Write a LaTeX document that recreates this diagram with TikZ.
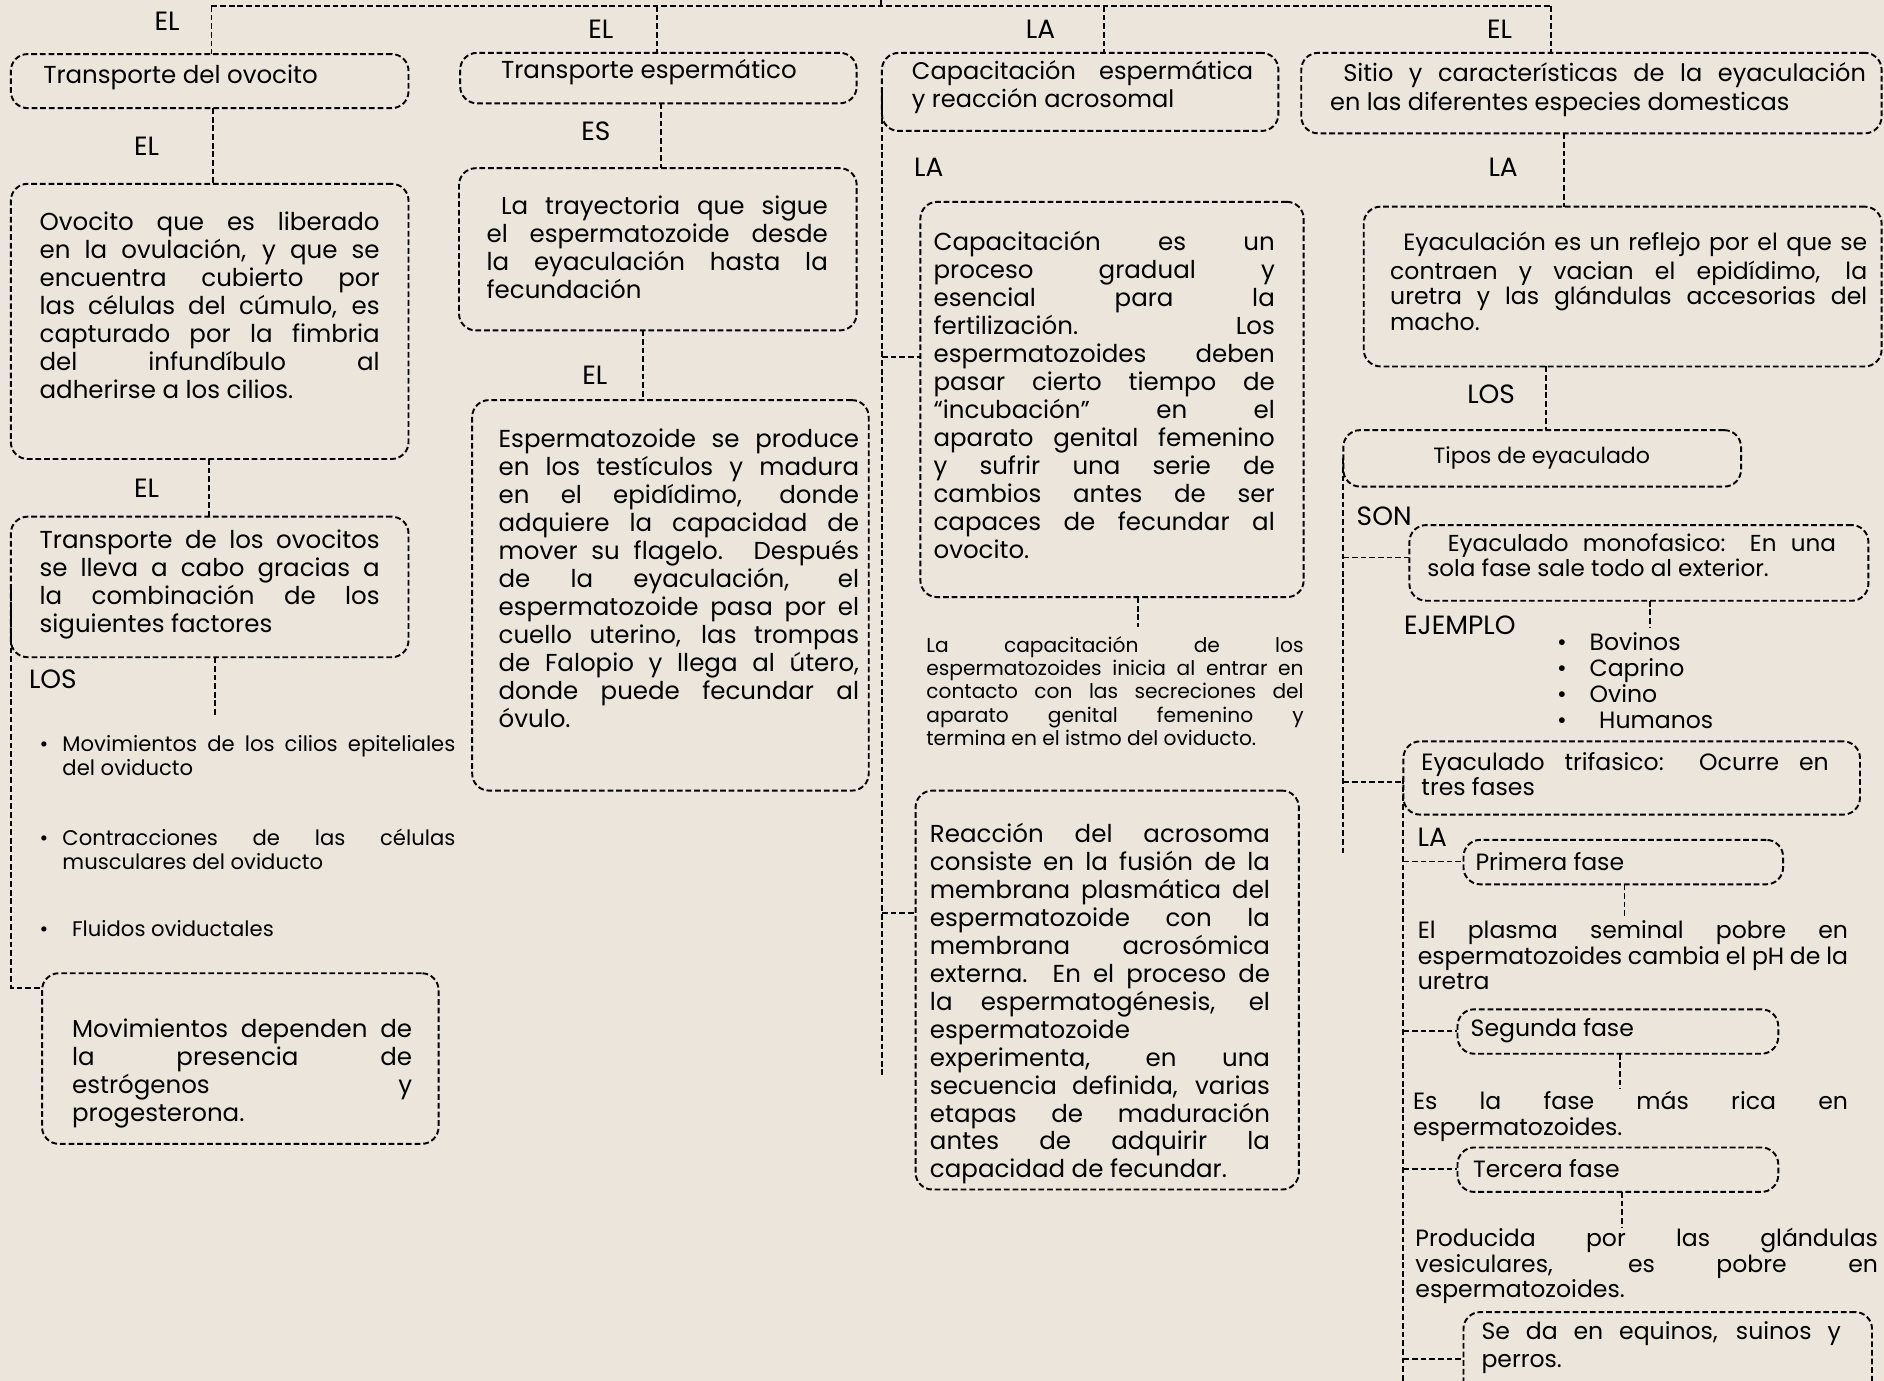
\documentclass[tikz,border=0pt]{standalone}
\usepackage{fontspec}
\setmainfont{Poppins}
\setlength\parindent{0pt}
\definecolor{paper}{RGB}{235,229,219}
\newcommand\J[1]{\makebox[\hsize][s]{#1}}
\newcommand\PB[2]{\parbox[t]{#1}{\strut #2}}
\newcommand\fb{\fontsize{10.2}{11.65}\selectfont}
\newcommand\fh{\fontsize{10}{12}\selectfont}
\newcommand\fc{\fontsize{9.8}{10.7}\selectfont}
\newcommand\fs{\fontsize{8.4}{9.6}\selectfont}
\newcommand\fli{\fontsize{8.8}{10}\selectfont}
\newcommand\fl{\fontsize{11}{12}\selectfont}
\newcommand\bx[5]{\node[box, minimum width={(#4-#2)*0.5pt}, minimum height={(#5-#3)*0.5pt}] (#1) at ({(#2+#4)/2},{(#3+#5)/2}) {};}
\begin{document}
\begin{tikzpicture}[x=0.5pt,y=-0.5pt,
  conn/.style={draw=black, line width=0.8pt, dash pattern=on 2.4pt off 1.2pt},
  box/.style={conn, rounded corners=7pt, inner sep=0pt, outer sep=0pt},
  tx/.style={anchor=north west, inner sep=0pt, outer sep=0pt, align=left, font=\fb},
  hd/.style={anchor=west, inner sep=0pt, outer sep=0pt, font=\fb},
  lb/.style={anchor=center, inner sep=0pt, outer sep=0pt, font=\fl}]
\useasboundingbox (0,0) rectangle (1568,1149);
\clip (0,0) rectangle (1568,1149);
\fill[paper] (0,0) rectangle (1568,1149);

% ---------- boxes
\bx{b1}{9}{45}{340}{90}
\bx{b2}{383}{44}{713}{86}
\bx{b3}{734}{44}{1064}{109}
\bx{b4}{1083}{44}{1566}{111}
\bx{ovo}{9}{153}{340}{382}
\bx{tr1}{9}{430}{340}{547}
\bx{mov}{35}{810}{365}{952}
\bx{tray}{382}{140}{713}{275}
\bx{esp}{393}{333}{723}{658}
\bx{cap}{766}{168}{1085}{497}
\bx{reac}{762}{658}{1081}{990}
\bx{eya}{1135}{172}{1566}{305}
\bx{tipos}{1118}{358}{1449}{405}
\bx{mono}{1173}{437}{1555}{500}
\bx{tri}{1168}{617}{1548}{678}
\bx{prim}{1218}{699}{1484}{736}
\bx{seg}{1213}{840}{1480}{877}
\bx{ter}{1213}{955}{1480}{992}
\bx{seda}{1218}{1092}{1558}{1175}

% ---------- header texts
\node[hd] (h1) at (36,64) {Transporte del ovocito};
\node[hd] (h2) at (417,60) {Transporte espermático};
\node[tx, font=\fh] (h3) at (759,49) {\PB{142pt}{\J{Capacitación espermática}\\y reacción acrosomal}};
\node[tx, font=\fh] (h4) at (1107,51) {\PB{223pt}{\J{\hspace*{5.5pt}Sitio y características de la eyaculación}\\en las diferentes especies domesticas}};

% ---------- column 1
\node[tx] (ovoT) at (33,175.5) {\PB{141.5pt}{\J{Ovocito que es liberado}\\\J{en la ovulación, y que se}\\\J{encuentra cubierto por}\\\J{las células del cúmulo, es}\\\J{capturado por la fimbria}\\\J{del infundíbulo al}\\adherirse a los cilios.}};
\node[tx] (tr1T) at (33,440.5) {\PB{141.5pt}{\J{Transporte de los ovocitos}\\\J{se lleva a cabo gracias a}\\\J{la combinación de los}\\siguientes factores}};
\node[tx, font=\fli] (li1) at (33,611.5) {\makebox[9.5pt][l]{\strut•}\PB{163.5pt}{\J{Movimientos de los cilios epiteliales}\\del oviducto}};
\node[tx, font=\fli] (li2) at (33,689.5) {\makebox[9.5pt][l]{\strut•}\PB{163.5pt}{\J{Contracciones de las células}\\musculares del oviducto}};
\node[tx, font=\fli] (li3) at (33,765.5) {\makebox[13.5pt][l]{\strut•}Fluidos oviductales};
\node[tx] (movT) at (60,847.5) {\PB{141.5pt}{\J{Movimientos dependen de}\\\J{la presencia de}\\\J{estrógenos y}\\progesterona.}};

% ---------- column 2
\node[tx] (trayT) at (405,162.5) {\PB{142pt}{\J{\hspace*{6pt}La trayectoria que sigue}\\\J{el espermatozoide desde}\\\J{la eyaculación hasta la}\\fecundación}};
\node[tx] (espT) at (415,356.5) {\PB{150pt}{\J{Espermatozoide se produce}\\\J{en los testículos y madura}\\\J{en el epidídimo, donde}\\\J{adquiere la capacidad de}\\\J{mover su flagelo. Después}\\\J{de la eyaculación, el}\\\J{espermatozoide pasa por el}\\\J{cuello uterino, las trompas}\\\J{de Falopio y llega al útero,}\\\J{donde puede fecundar al}\\óvulo.}};

% ---------- column 3
\node[tx] (capT) at (777,192.5) {\PB{142pt}{\J{Capacitación es un}\\\J{proceso gradual y}\\\J{esencial para la}\\\J{fertilización. Los}\\\J{espermatozoides deben}\\\J{pasar cierto tiempo de}\\\J{“incubación” en el}\\\J{aparato genital femenino}\\\J{y sufrir una serie de}\\\J{cambios antes de ser}\\\J{capaces de fecundar al}\\ovocito.}};
\node[tx, font=\fs] (capS) at (771,529.9) {\PB{157pt}{\J{La capacitación de los}\\\J{espermatozoides inicia al entrar en}\\\J{contacto con las secreciones del}\\\J{aparato genital femenino y}\\termina en el istmo del oviducto.}};
\node[tx] (reacT) at (774,684.5) {\PB{141.5pt}{\J{Reacción del acrosoma}\\\J{consiste en la fusión de la}\\\J{membrana plasmática del}\\\J{espermatozoide con la}\\\J{membrana acrosómica}\\\J{externa. En el proceso de}\\\J{la espermatogénesis, el}\\espermatozoide\\\J{experimenta, en una}\\\J{secuencia definida, varias}\\\J{etapas de maduración}\\\J{antes de adquirir la}\\capacidad de fecundar.}};

% ---------- column 4
\node[tx, font=\fc] (eyaT) at (1157,193) {\PB{198.5pt}{\J{\hspace*{5.5pt}Eyaculación es un reflejo por el que se}\\\J{contraen y vacian el epidídimo, la}\\\J{uretra y las glándulas accesorias del}\\macho.}};
\node[hd, font=\fontsize{9.2}{10}\selectfont] (tiposT) at (1193,381) {Tipos de eyaculado};
\node[tx, font=\fontsize{9.6}{10.5}\selectfont] (monoT) at (1188,444) {\PB{170pt}{\J{\hspace*{8.5pt}Eyaculado monofasico: En una}\\sola fase sale todo al exterior.}};
\node[tx, font=\fontsize{9.8}{10.85}\selectfont] (ejT) at (1296,526) {\makebox[13.5pt][l]{\strut•}Bovinos\\\makebox[13.5pt][l]{•}Caprino\\\makebox[13.5pt][l]{•}Ovino\\\makebox[17.5pt][l]{•}Humanos};
\node[tx, font=\fc] (triT) at (1183,626) {\PB{169.5pt}{\J{Eyaculado trifasico: Ocurre en}\\tres fases}};
\node[hd, font=\fc] (primT) at (1228,717) {Primera fase};
\node[tx, font=\fc] (plasT) at (1180,766) {\PB{179pt}{\J{El plasma seminal pobre en}\\\J{espermatozoides cambia el pH de la}\\uretra}};
\node[hd, font=\fc] (segT) at (1224,858) {Segunda fase};
\node[tx, font=\fc] (ricaT) at (1176,908) {\PB{181pt}{\J{Es la fase más rica en}\\espermatozoides.}};
\node[hd, font=\fc] (terT) at (1226,973) {Tercera fase};
\node[tx, font=\fc] (prodT) at (1178,1022) {\PB{192.5pt}{\J{Producida por las glándulas}\\\J{vesiculares, es pobre en}\\espermatozoides.}};
\node[tx, font=\fontsize{9.8}{11.5}\selectfont] (sedaT) at (1233,1099) {\PB{149.5pt}{\J{Se da en equinos, suinos y}\\perros.}};

% ---------- labels
\node[lb] (l1) at (139,18) {EL};
\node[lb] (l2) at (500,24) {EL};
\node[lb] (l3) at (866,24) {LA};
\node[lb] (l4) at (1248,24) {EL};
\node[lb] (l5) at (122,122) {EL};
\node[lb] (l6) at (122,406) {EL};
\node[lb] (l7) at (44,565) {LOS};
\node[lb] (l8) at (496,109) {ES};
\node[lb] (l9) at (495,312) {EL};
\node[lb] (l10) at (773,139) {LA};
\node[lb] (l11) at (1251,139) {LA};
\node[lb] (l12) at (1241,328) {LOS};
\node[lb] (l13) at (1152,430) {SON};
\node[lb] (l14) at (1215,520) {EJEMPLO};
\node[lb] (l15) at (1192,697) {LA};

% ---------- connectors
\coordinate (root) at (733,0);
\coordinate (t1) at (176,5);
\coordinate (t2) at (547,5);
\coordinate (t3) at (919,5);
\coordinate (t4) at (1291,5);
\draw[conn] (t1) -- (t4);
\draw[conn] (root) -- (root |- t1);
\draw[conn] (t1) -- (t1 |- b1.north);
\draw[conn] (t2) -- (t2 |- b2.north);
\draw[conn] (t3) -- (t3 |- b3.north);
\draw[conn] (t4) -- (t4 |- b4.north);

\coordinate (v1) at (177,0);
\coordinate (v2) at (174,0);
\coordinate (e3) at (179,595);
\coordinate (lm) at (9,822);
\draw[conn] (b1.south -| v1) -- (ovo.north -| v1);
\draw[conn] (ovo.south -| v2) -- (tr1.north -| v2);
\draw[conn] (tr1.south -| e3) -- (e3);
\draw[conn] (tr1.west) -- (tr1.west |- lm) -- (mov.west |- lm);

\coordinate (v3) at (550,0);
\coordinate (v4) at (535,0);
\draw[conn] (b2.south -| v3) -- (tray.north -| v3);
\draw[conn] (tray.south -| v4) -- (esp.north -| v4);

\coordinate (c3) at (734,895);
\coordinate (j1) at (734,297);
\coordinate (j2) at (734,760);
\coordinate (e5) at (947,522);
\draw[conn] (b3.west) -- (b3.west |- c3);
\draw[conn] (j1) -- (cap.west |- j1);
\draw[conn] (j2) -- (reac.west |- j2);
\draw[conn] (cap.south -| e5) -- (e5);

\coordinate (v5) at (1302,0);
\coordinate (v6) at (1287,0);
\coordinate (c4) at (1118,712);
\coordinate (j3) at (1118,464);
\coordinate (j4) at (1118,651);
\coordinate (e6) at (1373,523);
\draw[conn] (b4.south -| v5) -- (eya.north -| v5);
\draw[conn] (eya.south -| v6) -- (tipos.north -| v6);
\draw[conn] (tipos.west) -- (tipos.west |- c4);
\draw[conn] (j3) -- (mono.west |- j3);
\draw[conn] (j4) -- (tri.west |- j4);
\draw[conn] (mono.south -| e6) -- (e6);

\coordinate (c5) at (1168,1160);
\coordinate (j5) at (1168,717);
\coordinate (j6) at (1168,858);
\coordinate (j7) at (1168,973);
\coordinate (j8) at (1168,1131);
\coordinate (e7) at (1352,763);
\coordinate (e8) at (1348,906);
\coordinate (e9) at (1350,1021);
\draw[conn] (tri.west) -- (tri.west |- c5);
\draw[conn] (j5) -- (prim.west |- j5);
\draw[conn] (j6) -- (seg.west |- j6);
\draw[conn] (j7) -- (ter.west |- j7);
\draw[conn] (j8) -- (seda.west |- j8);
\draw[conn] (prim.south -| e7) -- (e7);
\draw[conn] (seg.south -| e8) -- (e8);
\draw[conn] (ter.south -| e9) -- (e9);
\end{tikzpicture}
\end{document}
